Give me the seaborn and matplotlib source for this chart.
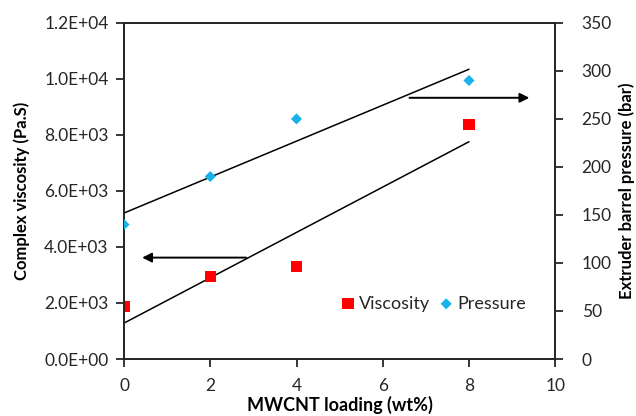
import numpy as np
import pandas as pd
import matplotlib
matplotlib.use("Agg")
import matplotlib.pyplot as plt
import seaborn as sns

# MWCNT loading (wt%)
loading = [0, 2, 4, 8]
# Complex viscosity (Pa.S)
viscosity = [1870, 2930, 3300, 8360]
# Extruder barrel pressure (bar)
pressure = [140, 190, 250, 290]

x_ticks = [0, 2, 4, 6, 8, 10]
left_ticks = [0, 2000, 4000, 6000, 8000, 10000, 12000]
left_tick_labels = ["0.0E+00", "2.0E+03", "4.0E+03", "6.0E+03", "8.0E+03", "1.0E+04", "1.2E+04"]
right_ticks = [0, 50, 100, 150, 200, 250, 300, 350]

df = pd.DataFrame({"loading": loading, "viscosity": viscosity, "pressure": pressure})

sns.set_theme(style="white")
plt.rcParams["font.family"] = ["Lato", "DejaVu Sans"]

red = "#FF0000"
blue = "#18B2EA"
ink = "#262626"

fig = plt.figure(figsize=(6.36, 4.16), dpi=100)
ax = fig.add_axes([0.195, 0.137, 0.678, 0.808])
ax2 = ax.twinx()

# linear trend lines
sns.regplot(data=df, x="loading", y="viscosity", ax=ax, scatter=False, ci=None,
            truncate=True, line_kws=dict(color="black", lw=1.1))
sns.regplot(data=df, x="loading", y="pressure", ax=ax2, scatter=False, ci=None,
            truncate=True, line_kws=dict(color="black", lw=1.1))

# data points
sns.scatterplot(data=df, x="loading", y="viscosity", ax=ax, marker="s", s=64,
                color=red, edgecolor="none", zorder=5, label="Viscosity", legend=False)
sns.scatterplot(data=df, x="loading", y="pressure", ax=ax2, marker="D", s=32,
                color=blue, edgecolor="none", zorder=5, label="Pressure", legend=False)

ax.set_xlim(0, 10)
ax.set_ylim(0, 12000)
ax2.set_ylim(0, 350)
ax.set_xticks(x_ticks)
ax.set_yticks(left_ticks)
ax.set_yticklabels(left_tick_labels)
ax2.set_yticks(right_ticks)

for a in (ax, ax2):
    for s in a.spines.values():
        s.set_color(ink)
        s.set_linewidth(1.3)
    a.tick_params(colors=ink, labelsize=12.5, length=6, width=1.3, direction="out")
    a.grid(False)
ax.tick_params(axis="x", bottom=True, top=False, pad=8)
ax.tick_params(axis="y", left=True, pad=5)
ax2.tick_params(axis="y", right=True, pad=13)

ax.set_xlabel("MWCNT loading (wt%)", fontsize=13, fontweight="bold", color="black", labelpad=1)
ax.set_ylabel("Complex viscosity (Pa.S)", fontsize=12, fontweight="bold", color="black", labelpad=10)
ax2.set_ylabel("Extruder barrel pressure (bar)", fontsize=12, fontweight="bold", color="black", labelpad=5)

# arrows indicating which axis each series belongs to
ax.annotate("", xy=(0.42, 3620), xytext=(2.83, 3620),
            arrowprops=dict(arrowstyle="-|>", color="black", lw=1.4, mutation_scale=14,
                            shrinkA=0, shrinkB=0))
ax2.annotate("", xy=(9.4, 272), xytext=(6.62, 272),
             arrowprops=dict(arrowstyle="-|>", color="black", lw=1.4, mutation_scale=14,
                             shrinkA=0, shrinkB=0))

h1, l1 = ax.get_legend_handles_labels()
h2, l2 = ax2.get_legend_handles_labels()
ax2.legend(h1 + h2, l1 + l2, ncol=2, frameon=False, fontsize=13,
           loc="center", bbox_to_anchor=(0.715, 0.165), handletextpad=0.1,
           columnspacing=0.4, handlelength=1.0, labelcolor=ink)

fig.savefig("out.png", dpi=100)
